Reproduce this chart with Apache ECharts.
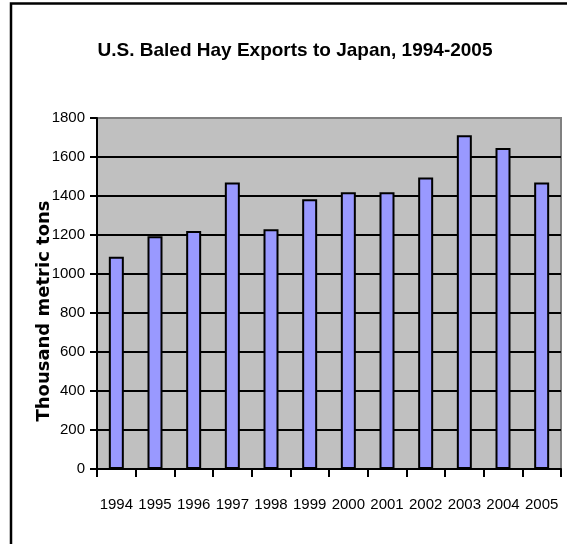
<!DOCTYPE html>
<html>
<head>
<meta charset="utf-8">
<script src="https://cdn.jsdelivr.net/npm/echarts@6/dist/echarts.min.js"></script>
<style>
  html, body { margin: 0; padding: 0; background: #fff; }
  #chart { width: 567px; height: 544px; }
</style>
</head>
<body>
<div id="chart"></div>
<script>
// 出口数据（千公吨）
var years = ["1994", "1995", "1996", "1997", "1998", "1999", "2000", "2001", "2002", "2003", "2004", "2005"];
var exports = [1088, 1193, 1220, 1469, 1230, 1383, 1419, 1419, 1495, 1712, 1646, 1469];
var yMin = 0;
var yMax = 1800;
var yStep = 200;

var sans = '"Liberation Sans", Arial, sans-serif';

var myChart = echarts.init(document.getElementById("chart"));
myChart.setOption({
  backgroundColor: "#ffffff",
  animation: false,
  title: {
    text: "U.S. Baled Hay Exports to Japan, 1994-2005",
    left: 290,
    top: 36,
    textAlign: "center",
    textStyle: {
      fontFamily: sans,
      fontSize: 19,
      fontWeight: "bold",
      color: "#000",
    },
  },
  graphic: [
    // 外框（左、上）
    {
      type: "polyline",
      shape: { points: [[11, 544], [11, 3.5], [567, 3.5]] },
      style: { stroke: "#000", lineWidth: 2.5, fill: null },
      silent: true,
    },
    // y轴标题
    {
      type: "text",
      x: 44,
      y: 311,
      rotation: Math.PI / 2,
      style: {
        text: "Thousand metric tons",
        fontFamily: '"DejaVu Sans", sans-serif',
        fontSize: 18,
        fontWeight: "bold",
        fill: "#000",
        align: "center",
        verticalAlign: "middle",
      },
      silent: true,
    },
  ],
  grid: {
    left: 97,
    top: 118,
    right: 6,
    bottom: 75,
    show: true,
    backgroundColor: "#c0c0c0",
    borderColor: "#808080",
    borderWidth: 2,
  },
  xAxis: {
    type: "category",
    data: years,
    boundaryGap: true,
    axisLine: { show: true, lineStyle: { color: "#000", width: 2 } },
    axisTick: { show: true, length: 8, lineStyle: { color: "#000", width: 2 } },
    axisLabel: {
      margin: 28,
      fontFamily: sans,
      fontSize: 15,
      color: "#000",
      interval: 0,
    },
    splitLine: { show: false },
  },
  yAxis: {
    type: "value",
    min: yMin,
    max: yMax,
    interval: yStep,
    axisLine: { show: true, lineStyle: { color: "#000", width: 2 } },
    axisTick: { show: true, length: 7, lineStyle: { color: "#000", width: 2 } },
    axisLabel: {
      margin: 12,
      fontFamily: sans,
      fontSize: 15,
      color: "#000",
      formatter: function (value) {
        return String(value);
      },
    },
    splitLine: {
      show: true,
      showMaxLine: false,
      lineStyle: { color: "#000", width: 2 },
    },
  },
  series: [
    {
      name: "Exports",
      type: "bar",
      data: exports,
      barWidth: 15,
      itemStyle: {
        color: "#9999ff",
        borderColor: "#000",
        borderWidth: 2,
      },
    },
  ],
});
</script>
</body>
</html>
